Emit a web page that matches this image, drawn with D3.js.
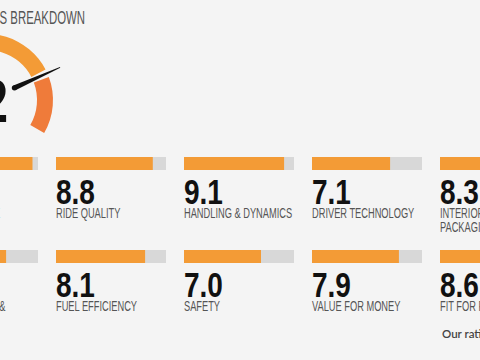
<!DOCTYPE html>
<html><head><meta charset="utf-8">
<script src="https://cdn.jsdelivr.net/npm/d3@7"></script>
<style>
body{margin:0;background:#f4f4f4;overflow:hidden}
svg{display:block}
</style></head><body>
<svg id="chart" width="480" height="360"></svg>
<script>
// ---- data ----
const titleText = "RATINGS BREAKDOWN";
const overallScore = 8.2;
const categories = ["PERFORMANCE","RIDE QUALITY","HANDLING & DYNAMICS","DRIVER TECHNOLOGY","INTERIOR COMFORT & PACKAGING",
                    "INFOTAINMENT & CONNECTIVITY","FUEL EFFICIENCY","SAFETY","VALUE FOR MONEY","FIT FOR PURPOSE"];
const scores = [9.5, 8.8, 9.1, 7.1, 8.3, 7.1, 8.1, 7.0, 7.9, 8.6];
const footnote = "Our ratings explained";

// ---- styles / layout ----
const W = 480, H = 360;
const FONT = "'Liberation Sans', Arial, sans-serif";
const orange = "#f39b36", orangeDark = "#ef7b3a", track = "#d8d8d8";
const cols = 5;
const svg = d3.select("#chart");
svg.append("rect").attr("width", W).attr("height", H).attr("fill", "#f4f4f4");

const colX = d3.scaleLinear().domain([0, 1]).range([-72, 56]);
const rowY = d3.scaleLinear().domain([0, 1]).range([157, 250]);
const barW = d3.scaleLinear().domain([0, 10]).range([0, 110]);
const barH = 13;

function condensedText(parent, x, y, txt, size, weight, fill, sx, anchor) {
  const g = parent.append("g").attr("transform", `translate(${x},${y}) scale(${sx},1)`);
  return g.append("text").text(txt)
    .attr("font-family", FONT).attr("font-size", size).attr("font-weight", weight)
    .attr("fill", fill).attr("text-anchor", anchor || "start");
}

// title
condensedText(svg, 85, 24, titleText, 19, 400, "#555", 0.6, "end");

// gauge
const gc = {x: -13, y: 100};
const ang = d3.scaleLinear().domain([2, 10]).range([-120, 120]);
const gap = 3.5;
const arc = d3.arc().innerRadius(50).outerRadius(66);
const gauge = svg.append("g").attr("transform", `translate(${gc.x},${gc.y})`);
const toRad = d => d * Math.PI / 180;
const a = ang(overallScore);
gauge.append("path").attr("d", arc({startAngle: toRad(-120), endAngle: toRad(a - gap)})).attr("fill", orange);
gauge.append("path").attr("d", arc({startAngle: toRad(a + gap), endAngle: toRad(120)})).attr("fill", orangeDark);
// needle (tapered)
const pol = (r, deg) => [r * Math.sin(toRad(deg)), -r * Math.cos(toRad(deg))];
const [bx, by] = pol(30, a), [tx, ty] = pol(80, a);
const nx = Math.cos(toRad(a)), ny = Math.sin(toRad(a));
const needle = [[bx + nx * 2.6, by + ny * 2.6], [tx + nx * 0.4, ty + ny * 0.4], [tx - nx * 0.4, ty - ny * 0.4], [bx - nx * 2.6, by - ny * 2.6]];
gauge.append("path").attr("d", d3.line()(needle) + "Z").attr("fill", "#111");
gauge.append("circle").attr("cx", bx).attr("cy", by).attr("r", 2.6).attr("fill", "#111");
// overall score number
condensedText(svg, gc.x + 21, gc.y + 22, overallScore.toFixed(1), 62, 700, "#111", 0.8, "end");

// breakdown cells
const data = categories.map((c, i) => ({label: c, value: scores[i], col: i % cols, row: Math.floor(i / cols)}));
const cells = svg.selectAll("g.cell").data(data).join("g").attr("class", "cell")
  .attr("transform", d => `translate(${colX(d.col)},${rowY(d.row)})`);
cells.append("rect").attr("width", barW(10)).attr("height", barH).attr("fill", track);
cells.append("rect").attr("width", d => barW(d.value)).attr("height", barH).attr("fill", orange);
cells.each(function(d) {
  const g = d3.select(this);
  condensedText(g, 0, 47, d.value.toFixed(1), 35, 700, "#111", 0.8);
  // wrapped label
  const sx = 0.64, maxW = 120;
  const words = d.label.split(" ");
  const lines = [];
  let cur = [];
  const t = condensedText(g, 0, 61, "", 14.5, 400, "#555", sx);
  words.forEach(w => {
    const trial = cur.concat([w]).join(" ");
    t.text(trial);
    if (cur.length && t.node().getComputedTextLength() * sx > maxW) { lines.push(cur.join(" ")); cur = [w]; }
    else cur.push(w);
  });
  lines.push(cur.join(" "));
  t.text(null);
  lines.forEach((l, k) => t.append("tspan").attr("x", 0).attr("dy", k ? 14 : 0).text(l));
});

// footnote
svg.append("text").attr("x", 442).attr("y", 338).text(footnote)
  .attr("font-family", "Lato, 'Open Sans', sans-serif").attr("font-size", 11.5).attr("font-weight", 600).attr("fill", "#444");
</script>
</body></html>
